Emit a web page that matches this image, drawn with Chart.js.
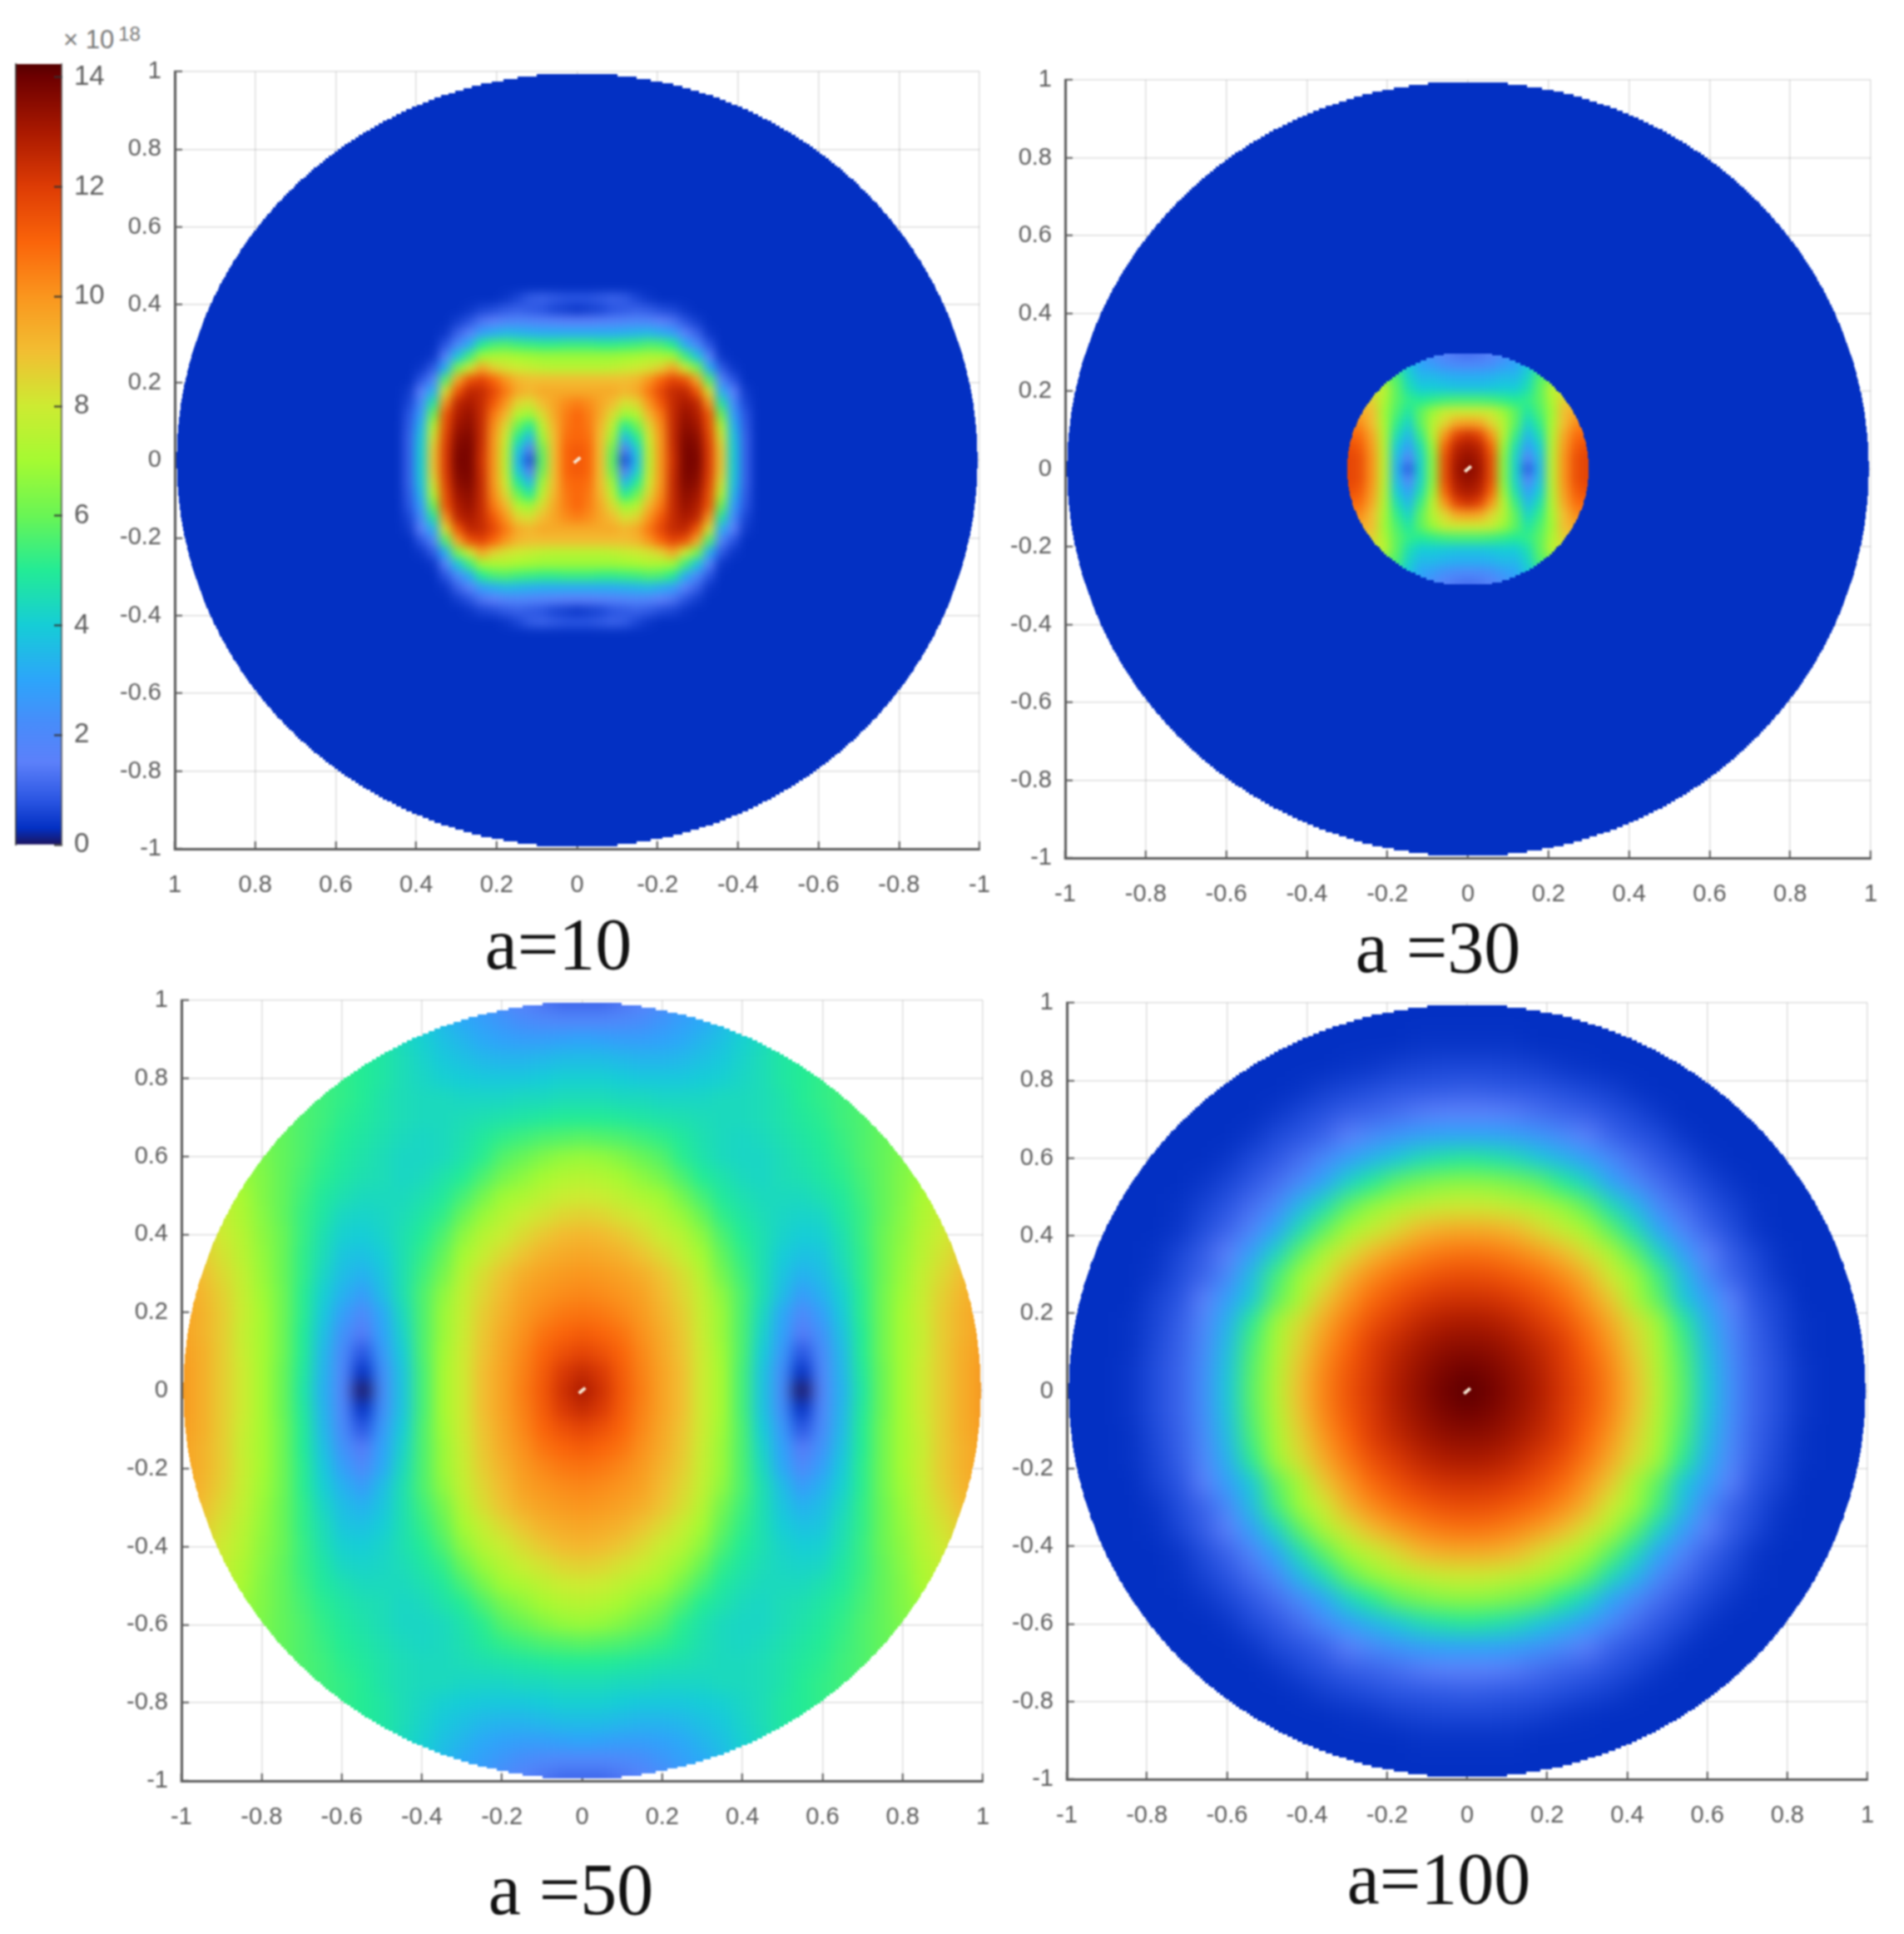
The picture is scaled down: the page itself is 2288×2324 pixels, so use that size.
<!DOCTYPE html>
<html>
<head>
<meta charset="utf-8">
<title>a=10, 30, 50, 100</title>
<script src="https://cdn.jsdelivr.net/npm/chart.js@4"></script>
<style>
  html, body { margin: 0; background: #fff; }
  body { width: 2288px; height: 2324px; position: relative; overflow: hidden; filter: blur(0.8px); }
  canvas { position: absolute; }
  .caption { position: absolute; font: 88px "Liberation Serif", serif; color: #111; transform: translate(-50%, -50%); white-space: pre; }
  .exponent { position: absolute; left: 76px; top: 30px; font: 31px "Liberation Sans", sans-serif; color: #777; }
  .exponent sup { font-size: 24px; position: relative; top: -9px; vertical-align: baseline; margin-left: 5px; }
</style>
</head>
<body>
<div class="exponent">&times; 10<sup>18</sup></div>
<div class="caption" style="left:671px;top:1134px">a=10</div>
<div class="caption" style="left:1728px;top:1138px">a =30</div>
<div class="caption" style="left:686px;top:2270px">a =50</div>
<div class="caption" style="left:1729px;top:2257px">a=100</div>

<script>
// tick labels
const axisTicks = [-1, -0.8, -0.6, -0.4, -0.2, 0, 0.2, 0.4, 0.6, 0.8, 1];
const colorbarTicks = [0, 2, 4, 6, 8, 10, 12, 14];
const colorbarMax = 14.24;

// colormap
const colorValues = [0, 0.3, 0.8, 1.5, 2.2, 3, 4, 5, 6, 7, 8, 9, 10, 11, 12, 13, 14, 14.24];
const colorStops = [
  [28, 20, 95], [3, 48, 195], [42, 85, 226], [92, 128, 250], [72, 140, 250], [45, 165, 250],
  [22, 205, 215], [35, 235, 150], [105, 245, 85], [165, 250, 50], [205, 235, 50], [242, 190, 50],
  [250, 150, 30], [250, 100, 10], [222, 60, 5], [170, 25, 0], [110, 0, 0], [85, 0, 0]
];

// Values (x 10^18) for one quadrant, rows go up from y=0, columns go out from x=0
const backgroundValue = 0.3;

const a10Steps = [0, 0.03, 0.06, 0.09, 0.12, 0.15, 0.18, 0.21, 0.24, 0.27, 0.3, 0.33, 0.36, 0.39, 0.42, 0.45];
const a10Rows = [
  [11.3, 11, 9, 5.8, 0.6, 3.5, 7.5, 10, 12.3, 13.8, 13.8, 12, 8.8, 4, 1, 0.3],
  [11.3, 11, 9, 6, 1.4, 4, 7.6, 10, 12.4, 13.8, 13.7, 12, 8.7, 4, 1, 0.3],
  [11, 10.8, 9, 6.8, 3.5, 5, 8, 10, 12.5, 13.7, 13.5, 11.8, 8.2, 3.8, 1, 0.3],
  [11, 10.6, 9.2, 7.5, 5, 6, 8.4, 10.2, 12.5, 13.5, 13.2, 11.5, 7.3, 3.4, 0.9, 0.3],
  [11, 10.5, 9.5, 8.3, 6.8, 7.3, 9.2, 10.6, 12.5, 13.3, 12.9, 11.3, 6, 2.8, 0.8, 0.3],
  [10.5, 10.2, 9.6, 9, 8.2, 8.5, 10, 11.3, 12.5, 13, 12.6, 10, 4.8, 2.2, 0.6, 0.3],
  [9.5, 9.5, 9.5, 9.5, 9.2, 9.5, 10.6, 11.7, 12.5, 12.6, 11.3, 8.2, 3.2, 1.5, 0.45, 0.3],
  [9, 9, 9, 9, 9, 9.2, 10, 11, 11.8, 11.4, 9.5, 5.6, 1.8, 0.8, 0.3, 0.3],
  [7.5, 7.5, 7.5, 7.6, 7.8, 8, 8.2, 8.6, 9.6, 8, 6.2, 3.2, 0.9, 0.4, 0.3, 0.3],
  [6.8, 6.8, 6.8, 6.8, 6.9, 7, 7.2, 7.1, 6.9, 5.4, 3.8, 1.6, 0.4, 0.3, 0.3, 0.3],
  [5.3, 5.3, 5.2, 5.2, 5.3, 5.4, 5.6, 5.5, 5, 3.2, 2, 0.8, 0.3, 0.3, 0.3, 0.3],
  [3.2, 3.2, 3.2, 3.2, 3.3, 3.4, 3.5, 3.2, 2.8, 1.6, 1, 0.4, 0.3, 0.3, 0.3, 0.3],
  [1.5, 1.5, 1.6, 1.7, 1.8, 1.9, 1.8, 1.5, 1.3, 0.8, 0.5, 0.3, 0.3, 0.3, 0.3, 0.3],
  [0.4, 0.5, 0.6, 0.8, 0.9, 1, 0.9, 0.7, 0.6, 0.4, 0.3, 0.3, 0.3, 0.3, 0.3, 0.3],
  [0.8, 0.8, 0.9, 1, 0.9, 0.6, 0.4, 0.3, 0.3, 0.3, 0.3, 0.3, 0.3, 0.3, 0.3, 0.3],
  [0.3, 0.3, 0.3, 0.3, 0.3, 0.3, 0.3, 0.3, 0.3, 0.3, 0.3, 0.3, 0.3, 0.3, 0.3, 0.3]
];

const a30Steps = [0, 0.03, 0.06, 0.09, 0.12, 0.15, 0.18, 0.21, 0.24, 0.27, 0.3, 0.33];
const a30Rows = [
  [13.6, 13.2, 11.5, 6.5, 4.2, 0.8, 3.4, 7.5, 10, 11.5, 11.8, 11.8],
  [13.4, 13, 11.5, 6.5, 4.2, 1.7, 3.6, 7.5, 10, 11.5, 11.8, 11.8],
  [13, 12.7, 11, 6.8, 4.6, 2.8, 4, 7.4, 9.8, 11.2, 11.6, 11.6],
  [12.3, 11.8, 10, 7.4, 5.3, 3.5, 4.6, 7.3, 9.5, 10.8, 11, 11],
  [9.8, 9.6, 8.5, 7.4, 5.8, 4.2, 5.2, 7.1, 9, 10.2, 10.5, 10.5],
  [8, 8, 7.8, 6.8, 5.8, 4.8, 5.6, 6.9, 9, 9.5, 9.5, 9.5],
  [5.5, 5.5, 5.4, 5.2, 5, 5.2, 5.8, 7.2, 8.6, 8.7, 9, 9],
  [3.8, 3.8, 3.9, 4, 4, 4.6, 5.8, 7.6, 7.8, 8, 8, 8],
  [3.2, 3.2, 3.3, 3.5, 3.5, 4.2, 5.6, 6, 6, 6, 6, 6],
  [2, 2.1, 2.3, 2.7, 3, 3.8, 4.5, 4.5, 4.5, 4.5, 4.5, 4.5],
  [1.2, 1.3, 1.6, 2, 2.6, 3.4, 4, 4, 4, 4, 4, 4],
  [1.2, 1.3, 1.6, 2, 2.6, 3.4, 4, 4, 4, 4, 4, 4]
];

const a50Steps = [0, 0.05, 0.1, 0.15, 0.2, 0.25, 0.3, 0.35, 0.4, 0.45, 0.5, 0.55, 0.6, 0.65, 0.7, 0.75, 0.8, 0.85, 0.9, 0.95, 1];
const a50Rows = [
  [13, 12.3, 11.3, 10.5, 9.7, 9, 8, 7, 5.5, 3.8, 2.2, 0, 1.8, 3.3, 4.8, 6, 7, 8, 8.7, 9.4, 9.9],
  [12.5, 12.1, 11.2, 10.4, 9.7, 9, 8, 7, 5.5, 3.8, 2.3, 0.3, 1.9, 3.4, 4.9, 6, 7, 8, 8.7, 9.4, 9.9],
  [11.8, 11.5, 11, 10.3, 9.6, 8.9, 8, 6.9, 5.6, 4, 2.6, 0.8, 2.1, 3.5, 5, 6.1, 7, 7.9, 8.7, 9.4, 9.8],
  [11.2, 11, 10.7, 10.1, 9.5, 8.8, 7.9, 6.8, 5.6, 4.2, 2.9, 1.4, 2.4, 3.7, 5, 6.1, 7, 7.8, 8.7, 9.3, 9.7],
  [10.7, 10.6, 10.3, 9.9, 9.3, 8.7, 7.8, 6.8, 5.6, 4.4, 3.1, 2, 2.8, 3.9, 5.1, 6.1, 7, 7.9, 8.7, 9.3, 9.7],
  [10.3, 10.2, 10, 9.7, 9.1, 8.5, 7.7, 6.6, 5.6, 4.6, 3.6, 2.7, 3.3, 4.1, 5.1, 6.1, 6.9, 7.8, 8.6, 9.2, 9.6],
  [10, 9.9, 9.7, 9.4, 8.9, 8.3, 7.4, 6.2, 5.4, 4.6, 3.8, 3.3, 3.6, 4.3, 5.2, 6, 6.8, 7.7, 8.4, 9, 9.4],
  [9.6, 9.5, 9.3, 8.9, 8.4, 7.8, 7, 5.9, 5.2, 4.6, 4, 3.7, 3.8, 4.5, 5.2, 6, 6.7, 7.5, 8.2, 8.7, 9.1],
  [9.2, 9.1, 8.8, 8.4, 7.9, 7.4, 6.6, 5.6, 5, 4.6, 4.2, 4, 4.1, 4.6, 5.3, 6, 6.6, 7.4, 8, 8.5, 8.8],
  [8.6, 8.5, 8.2, 7.9, 7.4, 6.8, 6, 5.2, 4.8, 4.5, 4.3, 4.2, 4.3, 4.8, 5.3, 5.9, 6.5, 7.2, 7.8, 8.3, 8.6],
  [8, 7.9, 7.6, 7.2, 6.9, 6.2, 5.5, 4.9, 4.6, 4.4, 4.4, 4.4, 4.6, 4.9, 5.4, 5.9, 6.4, 7.1, 7.7, 8.1, 8.3],
  [7.4, 7.3, 7, 6.6, 6.2, 5.6, 5, 4.7, 4.4, 4.3, 4.5, 4.6, 4.8, 5.1, 5.5, 5.9, 6.4, 6.8, 7.2, 7.6, 7.8],
  [6.8, 6.7, 6.4, 6, 5.7, 5.1, 4.7, 4.4, 4.3, 4.3, 4.5, 4.7, 4.9, 5.2, 5.6, 5.9, 6.3, 6.7, 7.1, 7.4, 7.6],
  [5.8, 5.7, 5.6, 5.4, 5.2, 4.9, 4.6, 4.4, 4.3, 4.4, 4.6, 4.8, 5, 5.3, 5.6, 5.9, 6.2, 6.6, 7, 7.3, 7.5],
  [5, 5, 4.9, 4.8, 4.7, 4.6, 4.5, 4.4, 4.4, 4.5, 4.7, 4.9, 5.1, 5.4, 5.6, 5.9, 6.2, 6.5, 6.9, 7.2, 7.4],
  [4.5, 4.5, 4.4, 4.4, 4.3, 4.3, 4.3, 4.4, 4.4, 4.5, 4.7, 5, 5.2, 5.4, 5.6, 5.9, 6.2, 6.5, 6.8, 7.1, 7.3],
  [4.1, 4.1, 4, 3.9, 3.9, 3.9, 4, 4.1, 4.3, 4.5, 4.8, 5, 5.2, 5.4, 5.6, 5.9, 6.1, 6.4, 6.7, 7, 7.2],
  [3.6, 3.6, 3.5, 3.4, 3.4, 3.5, 3.7, 3.9, 4.2, 4.5, 4.8, 5, 5.2, 5.4, 5.6, 5.9, 6.1, 6.4, 6.7, 7, 7.2],
  [3, 2.9, 2.8, 2.8, 2.9, 3.1, 3.4, 3.7, 4.1, 4.4, 4.8, 5, 5.2, 5.4, 5.6, 5.9, 6.1, 6.4, 6.7, 7, 7.2],
  [1.9, 1.9, 2, 2.2, 2.5, 2.8, 3.1, 3.5, 4, 4.4, 4.8, 5, 5.2, 5.4, 5.6, 5.9, 6.1, 6.4, 6.7, 7, 7.2],
  [1.1, 1.1, 1.3, 1.6, 2, 2.5, 3, 3.4, 3.9, 4.3, 4.8, 5, 5.2, 5.4, 5.6, 5.9, 6.1, 6.4, 6.7, 7, 7.2]
];

const a100Steps = [0, 0.06, 0.12, 0.18, 0.24, 0.3, 0.36, 0.42, 0.48, 0.54, 0.6, 0.66, 0.72, 0.78, 0.84, 0.9];
const a100Rows = [
  [14.2, 13.95, 13.45, 12.9, 12.2, 11.4, 10.4, 9, 7.4, 5.8, 3.9, 2.3, 1.05, 0.7, 0.4, 0.3],
  [13.97, 13.75, 13.33, 12.8, 12.1, 11.3, 10.3, 8.9, 7.3, 5.7, 3.8, 2.25, 1.05, 0.7, 0.4, 0.3],
  [13.5, 13.4, 13.05, 12.55, 12, 11, 10, 8.6, 7.1, 5.5, 3.6, 2.1, 1, 0.65, 0.35, 0.3],
  [13, 12.9, 12.6, 12.1, 11.5, 10.6, 9.5, 8.3, 6.9, 5.1, 3.3, 1.9, 0.95, 0.6, 0.35, 0.3],
  [12.3, 12.25, 12, 11.5, 10.9, 10, 8.8, 7.1, 5.8, 3.9, 2.8, 1.5, 0.8, 0.55, 0.3, 0.3],
  [11.6, 11.5, 11.2, 10.8, 10.2, 9.3, 8, 6.9, 5.4, 3.6, 2.1, 1.05, 0.7, 0.4, 0.3, 0.3],
  [10.7, 10.6, 10.3, 9.8, 9.1, 8.2, 7.2, 5.8, 4.2, 2.8, 1.5, 0.95, 0.6, 0.35, 0.3, 0.3],
  [9.5, 9.4, 9.1, 8.4, 7.7, 7, 5.8, 4.5, 3, 1.8, 1.05, 0.7, 0.4, 0.3, 0.3, 0.3],
  [8, 7.9, 7.6, 7.2, 6.7, 5.8, 4.5, 3.4, 2.1, 1.2, 0.8, 0.55, 0.35, 0.3, 0.3, 0.3],
  [6.6, 6.5, 6.2, 5.8, 5, 4.2, 3, 2.1, 1.2, 0.85, 0.6, 0.4, 0.3, 0.3, 0.3, 0.3],
  [5, 4.8, 4.5, 3.9, 3.4, 2.8, 2.1, 1.2, 0.85, 0.65, 0.4, 0.3, 0.3, 0.3, 0.3, 0.3],
  [3, 3, 2.8, 2.5, 2.1, 1.5, 1.05, 0.8, 0.65, 0.4, 0.3, 0.3, 0.3, 0.3, 0.3, 0.3],
  [1.5, 1.5, 1.4, 1.2, 1.05, 0.95, 0.75, 0.6, 0.4, 0.3, 0.3, 0.3, 0.3, 0.3, 0.3, 0.3],
  [0.95, 0.9, 0.85, 0.8, 0.7, 0.6, 0.5, 0.35, 0.3, 0.3, 0.3, 0.3, 0.3, 0.3, 0.3, 0.3],
  [0.6, 0.6, 0.55, 0.5, 0.4, 0.35, 0.3, 0.3, 0.3, 0.3, 0.3, 0.3, 0.3, 0.3, 0.3, 0.3],
  [0.35, 0.35, 0.35, 0.3, 0.3, 0.3, 0.3, 0.3, 0.3, 0.3, 0.3, 0.3, 0.3, 0.3, 0.3, 0.3]
];

const AXIS_FONT = { family: '"Liberation Sans", sans-serif', size: 29 };
const COLORBAR_FONT = { family: '"Liberation Sans", sans-serif', size: 33 };
const TICK_COLOR = '#5c5c5c';
const MARGIN = { left: 110, right: 40, top: 30, bottom: 80 };
const DISK_RADIUS = 0.995;
const DISK_ROW = 0.006;  // height of one row of the jagged disk edge

// 値から色へ
function colorFor(v) {
  let i = 1;
  while (i < colorValues.length - 1 && v > colorValues[i]) i++;
  const t = Math.min(1, Math.max(0, (v - colorValues[i - 1]) / (colorValues[i] - colorValues[i - 1])));
  const a = colorStops[i - 1];
  const b = colorStops[i];
  return `rgb(${a.map((c, k) => Math.round(c + (b[k] - c) * t)).join(',')})`;
}

// mirror a quadrant into all four
function quadrantToPoints(steps, rows) {
  const points = [];
  rows.forEach((row, j) => {
    row.forEach((v, i) => {
      [1, -1].forEach(sx => {
        [1, -1].forEach(sy => {
          if ((sx < 0 && i === 0) || (sy < 0 && j === 0)) return;
          points.push({ x: sx * steps[i], y: sy * steps[j], v });
        });
      });
    });
  });
  return points;
}

function addStairPath(ctx, chart, radius) {
  const { x, y } = chart.scales;
  const n = Math.floor(radius / DISK_ROW);
  for (let j = -n; j <= n; j++) {
    const yv = j * DISK_ROW;
    const half = Math.sqrt(radius * radius - yv * yv);
    const x0 = Math.round(Math.min(x.getPixelForValue(-half), x.getPixelForValue(half)));
    const x1 = Math.round(Math.max(x.getPixelForValue(-half), x.getPixelForValue(half)));
    const y0 = Math.round(y.getPixelForValue(yv + DISK_ROW / 2));
    const y1 = Math.round(y.getPixelForValue(yv - DISK_ROW / 2));
    ctx.rect(x0, y0, x1 - x0, y1 - y0);
  }
}

function copyCanvas(source, filter) {
  const copy = document.createElement('canvas');
  copy.width = source.width;
  copy.height = source.height;
  const c = copy.getContext('2d');
  if (filter) c.filter = filter;
  c.drawImage(source, 0, 0);
  return copy;
}

// The cells are scatter points. They get smoothed after drawing, then cut to the disk.
const heatPlugin = {
  id: 'heat',
  beforeDatasetsDraw(chart, args, opts) {
    chart.$clean = copyCanvas(chart.canvas);
    const ctx = chart.ctx;
    const a = chart.chartArea;
    ctx.save();
    ctx.fillStyle = colorFor(backgroundValue);
    ctx.fillRect(a.left - 30, a.top - 30, a.right - a.left + 60, a.bottom - a.top + 60);
    ctx.restore();
  },
  afterDatasetDraw(chart, args, opts) {
    if (args.index !== 1) return;
    const ctx = chart.ctx;
    const blurred = copyCanvas(chart.canvas, `blur(${opts.blur}px)`);
    ctx.clearRect(0, 0, chart.width, chart.height);
    ctx.drawImage(chart.$clean, 0, 0);
    ctx.save();
    ctx.beginPath();
    addStairPath(ctx, chart, DISK_RADIUS);
    ctx.clip();
    ctx.fillStyle = colorFor(backgroundValue);
    ctx.fillRect(0, 0, chart.width, chart.height);
    ctx.beginPath();
    addStairPath(ctx, chart, opts.edge);
    ctx.clip();
    ctx.drawImage(blurred, 0, 0);
    ctx.restore();
  }
};

// no automatic room for overhanging tick labels
function clearScalePadding(scale) {
  scale.paddingTop = 0;
  scale.paddingBottom = 0;
  scale.paddingLeft = 0;
  scale.paddingRight = 0;
}

function axisOptions(reverse, isX) {
  return {
    type: 'linear',
    min: -1,
    max: 1,
    reverse,
    afterBuildTicks: scale => { scale.ticks = axisTicks.map(value => ({ value })); },
    afterFit: scale => {
      if (isX) scale.height = MARGIN.bottom;
      else scale.width = MARGIN.left;
      clearScalePadding(scale);
    },
    border: { color: '#5a5a5a', width: 3 },
    grid: { color: 'rgba(0,0,0,0.13)', lineWidth: 1.5, tickColor: '#5a5a5a', tickWidth: 2, tickLength: -9 },
    ticks: {
      font: AXIS_FONT,
      color: TICK_COLOR,
      padding: isX ? 36 : 25,
      autoSkip: false,
      maxRotation: 0,
      callback: value => String(value)
    }
  };
}

function drawPanel(panel) {
  const canvas = document.createElement('canvas');
  const width = MARGIN.left + panel.width + MARGIN.right;
  const height = MARGIN.top + panel.height + MARGIN.bottom;
  canvas.width = width;
  canvas.height = height;
  canvas.style.left = (panel.left - MARGIN.left) + 'px';
  canvas.style.top = (panel.top - MARGIN.top) + 'px';
  canvas.style.width = width + 'px';
  canvas.style.height = height + 'px';
  document.body.appendChild(canvas);

  const points = quadrantToPoints(panel.steps, panel.rows);
  const cellStep = panel.steps[1] - panel.steps[0];

  new Chart(canvas.getContext('2d'), {
    type: 'scatter',
    data: {
      datasets: [
        {
          // white speck at the origin
          data: [{ x: 0, y: 0 }],
          pointStyle: 'line',
          pointRotation: -40,
          pointRadius: 5,
          pointBorderWidth: 4,
          pointBorderColor: '#f6e6d2',
          clip: false
        },
        {
          data: points,
          pointStyle: 'rect',
          pointBorderWidth: 0,
          pointBackgroundColor: points.map(p => colorFor(p.v)),
          pointRadius: ctx => {
            const s = ctx.chart.scales.x;
            const side = s ? Math.abs(s.getPixelForValue(cellStep) - s.getPixelForValue(0)) : NaN;
            return ((side || 20) + 2) / Math.SQRT2;
          },
          clip: false
        }
      ]
    },
    options: {
      responsive: false,
      animation: false,
      events: [],
      layout: { padding: { top: MARGIN.top, right: MARGIN.right, left: 0, bottom: 0 } },
      plugins: {
        legend: { display: false },
        tooltip: { enabled: false },
        heat: { blur: panel.blur, edge: panel.edge }
      },
      scales: {
        x: axisOptions(panel.reverseX, true),
        y: axisOptions(false, false)
      }
    },
    plugins: [heatPlugin]
  });
}

function drawColorbar() {
  const canvas = document.createElement('canvas');
  canvas.width = 170;
  canvas.height = 985;
  canvas.style.left = '0px';
  canvas.style.top = '60px';
  document.body.appendChild(canvas);

  new Chart(canvas.getContext('2d'), {
    type: 'bar',
    data: {
      labels: [''],
      datasets: [{
        data: [[0, colorbarMax]],
        barPercentage: 1,
        categoryPercentage: 1,
        borderWidth: 0,
        backgroundColor: ctx => {
          const y = ctx.chart.scales.y;
          const y0 = y ? y.getPixelForValue(0) : NaN;
          const y1 = y ? y.getPixelForValue(colorbarMax) : NaN;
          if (!isFinite(y0) || !isFinite(y1)) return colorFor(6);
          const g = ctx.chart.ctx.createLinearGradient(0, y0, 0, y1);
          colorValues.forEach(v => g.addColorStop(v / colorbarMax, colorFor(v)));
          return g;
        }
      }]
    },
    options: {
      responsive: false,
      animation: false,
      events: [],
      layout: { padding: { left: 19, top: 17, bottom: 30, right: 0 } },
      plugins: { legend: { display: false }, tooltip: { enabled: false } },
      scales: {
        x: { display: false },
        y: {
          position: 'right',
          min: 0,
          max: colorbarMax,
          afterBuildTicks: scale => { scale.ticks = colorbarTicks.map(value => ({ value })); },
          afterFit: scale => { scale.width = 96; clearScalePadding(scale); },
          border: { color: 'rgba(70,70,70,0.7)', width: 2, z: 2 },
          grid: { drawOnChartArea: false, tickColor: '#333', tickWidth: 2, tickLength: -9, z: 2 },
          ticks: { font: COLORBAR_FONT, color: TICK_COLOR, padding: 24, autoSkip: false, z: 2 }
        },
        edge: {
          position: 'left',
          min: 0,
          max: colorbarMax,
          afterFit: scale => { scale.width = 0; clearScalePadding(scale); },
          border: { color: 'rgba(50,50,50,0.8)', width: 2, z: 2 },
          grid: { display: false },
          ticks: { display: false }
        }
      }
    }
  });
}

drawColorbar();
drawPanel({ left: 210, top: 86, width: 967, height: 934, reverseX: true, steps: a10Steps, rows: a10Rows, blur: 6, edge: DISK_RADIUS });
drawPanel({ left: 1280, top: 96, width: 968, height: 935, reverseX: false, steps: a30Steps, rows: a30Rows, blur: 6, edge: 0.3 });
drawPanel({ left: 218, top: 1202, width: 963, height: 938, reverseX: false, steps: a50Steps, rows: a50Rows, blur: 9, edge: DISK_RADIUS });
drawPanel({ left: 1282, top: 1205, width: 962, height: 933, reverseX: false, steps: a100Steps, rows: a100Rows, blur: 13, edge: DISK_RADIUS });
</script>
</body>
</html>
